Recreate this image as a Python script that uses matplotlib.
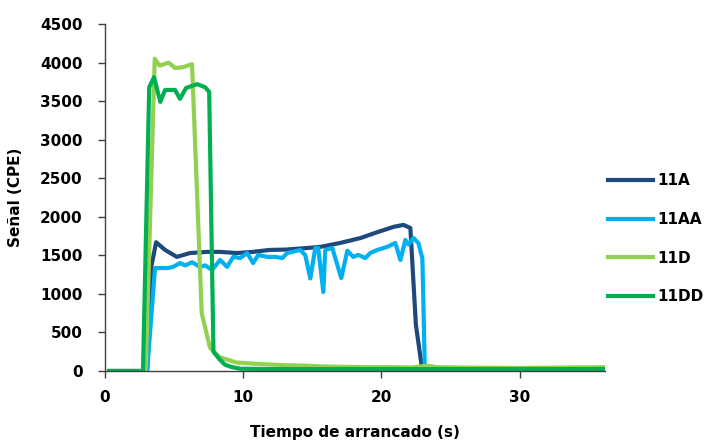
import matplotlib
matplotlib.use("Agg")
import matplotlib.pyplot as plt

plt.rcParams['font.family'] = ['DejaVu Sans']
plt.rcParams['font.weight'] = 'bold'

# --- data ---
t_11A = [0.3, 2.9, 3.05, 3.35, 3.7, 4.35, 5.2, 6.15, 7.4, 8.3, 9.55, 10.7, 11.9, 13.1, 14.6,
         15.6, 17.0, 18.5, 19.7, 20.9, 21.6, 22.1, 22.5, 22.97, 36.2]
v_11A = [0, 0, 0, 1350, 1670, 1570, 1480, 1530, 1545, 1545, 1530, 1545, 1570, 1575, 1595,
         1610, 1660, 1725, 1800, 1870, 1895, 1855, 600, 0, 0]

t_11AA = [0.3, 2.9, 3.05, 3.62, 4.49, 4.93, 5.43, 5.80, 6.30, 6.88, 7.25, 7.75, 8.33, 8.84,
          9.28, 9.78, 10.29, 10.72, 11.09, 11.74, 12.32, 12.83, 13.19, 13.55, 14.13, 14.49,
          14.86, 15.22, 15.43, 15.80, 15.94, 16.45, 17.10, 17.54, 17.97, 18.33, 18.84, 19.20,
          19.71, 20.43, 21.01, 21.38, 21.74, 21.96, 22.32, 22.68, 22.97, 23.15, 36.2]
v_11AA = [0, 0, 0, 1335, 1335, 1350, 1400, 1370, 1410, 1350, 1370, 1310, 1440, 1350,
          1480, 1465, 1530, 1400, 1505, 1480, 1480, 1465, 1530, 1545, 1570, 1505,
          1200, 1595, 1595, 1025, 1570, 1595, 1205, 1560, 1480, 1505, 1465, 1530,
          1570, 1610, 1660, 1440, 1700, 1640, 1725, 1660, 1460, 0, 0]

t_11D = [0.3, 2.7, 2.95, 3.6, 3.95, 4.6, 5.07, 5.65, 6.3, 7.0, 7.6, 8.3, 9.5, 11.2, 13.0,
         14.5, 15.6, 17.0, 19.0, 21.0, 22.2, 23.3, 24.0, 26.0, 30.0, 33.0, 36.2]
v_11D = [0, 0, 0, 4050, 3960, 4000, 3930, 3940, 3980, 750, 300, 180, 110, 90, 75,
         70, 60, 55, 50, 50, 45, 70, 50, 45, 40, 45, 50]

t_11DD = [0.3, 2.6, 2.75, 3.2, 3.55, 4.0, 4.35, 5.07, 5.43, 5.87, 6.67, 7.25, 7.54, 7.85,
          8.3, 8.7, 9.2, 9.8, 12.0, 20.0, 28.0, 36.2]
v_11DD = [0, 0, 0, 3680, 3810, 3490, 3645, 3645, 3530, 3670, 3720, 3680, 3620, 250,
          150, 80, 50, 30, 25, 25, 25, 25]

series = ["11A", "11AA", "11D", "11DD"]
colors = ["#1F497D", "#00B0F0", "#92D050", "#00B050"]

fig = plt.figure(figsize=(7.07, 4.43), dpi=100)
ax = fig.add_axes([0.1485, 0.1625, 0.7075, 0.7833])

for (tt, vv), name, c in zip([(t_11A, v_11A), (t_11AA, v_11AA), (t_11D, v_11D), (t_11DD, v_11DD)],
                             series, colors):
    ax.plot(tt, vv, color=c, lw=3, label=name, solid_joinstyle='round')

ax.set_xlim(0, 36.2)
ax.set_ylim(0, 4500)
ax.set_xticks([0, 10, 20, 30])
ax.set_yticks(range(0, 4501, 500))
for s in ['top', 'right']:
    ax.spines[s].set_visible(False)
for s in ['left', 'bottom']:
    ax.spines[s].set_color('#404040')
    ax.spines[s].set_linewidth(1.0)
ax.tick_params(axis='both', direction='out', length=5, width=1, color='#404040',
               labelsize=11)
ax.tick_params(axis='x', pad=9)
ax.tick_params(axis='y', pad=11)
for lab in ax.get_xticklabels() + ax.get_yticklabels():
    lab.set_fontweight('bold')
ax.set_xlabel("Tiempo de arrancado (s)", fontsize=11, fontweight='bold', labelpad=14)
ax.set_ylabel("Señal (CPE)", fontsize=11, fontweight='bold', labelpad=12)

leg = fig.legend(loc='upper left', bbox_to_anchor=(0.86, 0.609), frameon=False,
                 borderpad=0, borderaxespad=0,
                 handlelength=2.95, handletextpad=0.3, labelspacing=1.55,
                 prop={'weight': 'bold', 'size': 11})

fig.savefig("out.png", dpi=100)
